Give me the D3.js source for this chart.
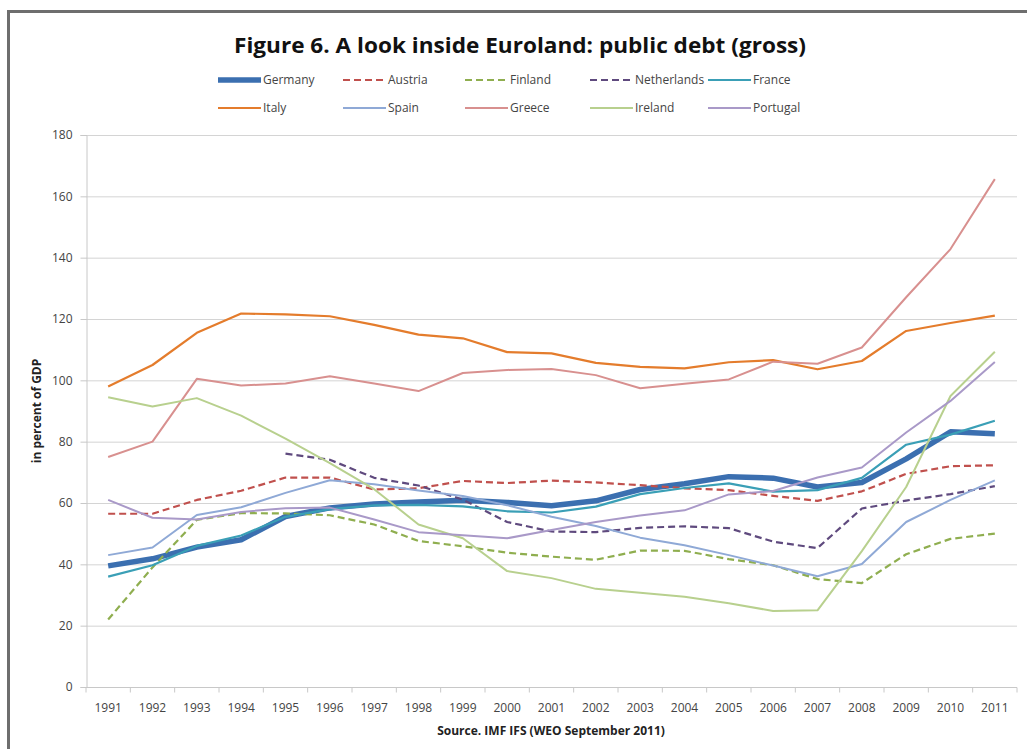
<!DOCTYPE html>
<html>
<head>
<meta charset="utf-8">
<script src="https://cdn.jsdelivr.net/npm/d3@7"></script>
<style>
  body { margin: 0; background: #fff; }
  text { font-family: "Open Sans", Lato, sans-serif; }
</style>
</head>
<body>
<script>
// data (percent of GDP)
const years = d3.range(1991, 2012);
const yTicks = [0, 20, 40, 60, 80, 100, 120, 140, 160, 180];

const germany = [39.5, 41.8, 45.6, 48, 55.6, 58.4, 59.7, 60.3, 60.9, 60.2, 59.1, 60.7, 64.4, 66.3, 68.6, 68.1, 65.2, 66.7, 74.4, 83.2, 82.6];
const austria = [56.5, 56.5, 61, 64, 68.3, 68.3, 64.4, 64.8, 67.2, 66.5, 67.3, 66.7, 65.8, 64.8, 64.2, 62.3, 60.7, 63.8, 69.5, 72, 72.3];
const finland = [22, 39, 54.5, 56.7, 56.6, 56, 53, 47.6, 45.9, 43.8, 42.5, 41.5, 44.5, 44.4, 41.7, 39.7, 35.2, 33.9, 43.3, 48.3, 50];
const netherlands = [null, null, null, null, 76.1, 74.1, 68.2, 65.7, 61.1, 53.8, 50.7, 50.5, 51.9, 52.4, 51.8, 47.4, 45.3, 58.2, 60.8, 62.9, 65.5];
const france = [36, 39.7, 46, 49.4, 55.5, 58, 59.2, 59.4, 58.9, 57.3, 56.9, 58.8, 62.9, 64.9, 66.4, 63.7, 64.2, 68.2, 79, 82.3, 86.8];
const italy = [98, 105, 115.5, 121.8, 121.5, 120.9, 118.1, 114.9, 113.7, 109.2, 108.8, 105.7, 104.4, 103.9, 105.9, 106.6, 103.6, 106.3, 116.1, 118.7, 121.1];
const spain = [43, 45.5, 56.1, 58.6, 63.3, 67.4, 66.1, 64.1, 62.3, 59.3, 55.5, 52.5, 48.7, 46.2, 43, 39.6, 36.1, 40.1, 53.8, 61, 67.4];
const greece = [75, 80, 100.5, 98.3, 99, 101.3, 99, 96.5, 102.4, 103.4, 103.7, 101.7, 97.4, 98.9, 100.3, 106.1, 105.4, 110.7, 127.1, 142.8, 165.6];
const ireland = [94.5, 91.5, 94.2, 88.5, 81, 73, 64.5, 53, 48.5, 37.8, 35.5, 32, 30.7, 29.4, 27.3, 24.8, 25, 44.3, 65.2, 94.9, 109.3];
const portugal = [61, 55.2, 54.6, 57.1, 58.3, 58.5, 54.6, 50.5, 49.5, 48.5, 51.2, 53.8, 55.9, 57.6, 62.8, 63.9, 68.3, 71.6, 83, 93.3, 106];

const series = [
  { name: "Germany", values: germany, color: "#3b6fb0", width: 5.5, dash: null },
  { name: "Austria", values: austria, color: "#c0504d", width: 2.2, dash: "7,4" },
  { name: "Finland", values: finland, color: "#8fae4f", width: 2.2, dash: "7,4" },
  { name: "Netherlands", values: netherlands, color: "#5f4a7e", width: 2.2, dash: "7,4" },
  { name: "France", values: france, color: "#3a9fb6", width: 2.2, dash: null },
  { name: "Italy", values: italy, color: "#e47c2c", width: 2.2, dash: null },
  { name: "Spain", values: spain, color: "#8fa9d6", width: 2, dash: null },
  { name: "Greece", values: greece, color: "#d8908f", width: 2, dash: null },
  { name: "Ireland", values: ireland, color: "#b8d08e", width: 2, dash: null },
  { name: "Portugal", values: portugal, color: "#a999c8", width: 2, dash: null }
];

const W = 1027, H = 749;
const svg = d3.select("body").append("svg").attr("width", W).attr("height", H);

// page frame
svg.append("path").attr("d", `M8.5,${H} V11.5 H${W}`)
  .attr("fill", "none").attr("stroke", "#6e6e6e").attr("stroke-width", 3);

const plotL = 86, plotR = 1017, plotT = 135, plotB = 687;

const x = d3.scalePoint().domain(years).range([plotL, plotR]).padding(0.5);
const y = d3.scaleLinear().domain([0, 180]).range([plotB, plotT]);

// grid
svg.append("g").selectAll("line").data(yTicks.filter(d => d > 0)).join("line")
  .attr("x1", plotL).attr("x2", plotR)
  .attr("y1", d => y(d) + 0.5).attr("y2", d => y(d) + 0.5)
  .attr("stroke", "#d4d4d4").attr("stroke-width", 1);

// y axis
const yAxis = svg.append("g").attr("transform", `translate(${plotL + 0.5},0)`)
  .call(d3.axisLeft(y).tickValues(yTicks).tickSize(6).tickPadding(8));
yAxis.select(".domain").attr("stroke", "#c8c8c8");
yAxis.selectAll(".tick line").attr("stroke", "#c8c8c8");
yAxis.selectAll(".tick text").attr("font-size", 12).attr("fill", "#444")
  .style("font-family", "'Open Sans', sans-serif");

// x axis, ticks between categories
const step = x.step();
const xa = svg.append("g").attr("transform", `translate(0,${plotB + 0.5})`);
xa.append("line").attr("x1", plotL).attr("x2", plotR).attr("stroke", "#c8c8c8");
xa.selectAll(".tk").data(d3.range(years.length + 1)).join("line")
  .attr("x1", i => plotL + i * step).attr("x2", i => plotL + i * step)
  .attr("y1", 0).attr("y2", 5).attr("stroke", "#c8c8c8");
xa.selectAll("text").data(years).join("text")
  .attr("x", d => x(d)).attr("y", 24)
  .attr("text-anchor", "middle").attr("font-size", 12).attr("fill", "#444")
  .text(d => d);

// lines
const line = d3.line().defined(d => d[1] != null)
  .x(d => x(d[0])).y(d => y(d[1]));
svg.append("g").selectAll("path").data(series).join("path")
  .attr("d", s => line(years.map((yr, i) => [yr, s.values[i]])))
  .attr("fill", "none")
  .attr("stroke", s => s.color)
  .attr("stroke-width", s => s.width)
  .attr("stroke-dasharray", s => s.dash)
  .attr("stroke-linejoin", "round");

// titles
svg.append("text").attr("x", 520).attr("y", 53).attr("text-anchor", "middle")
  .attr("font-size", 22).attr("font-weight", "bold").attr("fill", "#111")
  .attr("textLength", 572).attr("lengthAdjust", "spacingAndGlyphs")
  .text("Figure 6. A look inside Euroland: public debt (gross)");

svg.append("text").attr("transform", `translate(41,${(plotT + plotB) / 2}) rotate(-90)`)
  .attr("text-anchor", "middle").attr("font-size", 12).attr("font-weight", "bold").attr("fill", "#222")
  .text("in percent of GDP");

svg.append("text").attr("x", 551).attr("y", 735).attr("text-anchor", "middle")
  .attr("font-size", 12).attr("font-weight", "bold").attr("fill", "#222")
  .text("Source. IMF IFS (WEO September 2011)");

// legend
const legX = [218, 343, 465, 590, 708];
const legend = svg.append("g").selectAll("g").data(series).join("g")
  .attr("transform", (s, i) => `translate(${legX[i % 5]},${i < 5 ? 80 : 108})`);
legend.append("line").attr("x1", 0).attr("x2", 43)
  .attr("stroke", s => s.color)
  .attr("stroke-width", s => s.width)
  .attr("stroke-dasharray", s => s.dash);
legend.append("text").attr("x", 45).attr("y", 4).attr("font-size", 12).attr("fill", "#444")
  .text(s => s.name);
</script>
</body>
</html>
